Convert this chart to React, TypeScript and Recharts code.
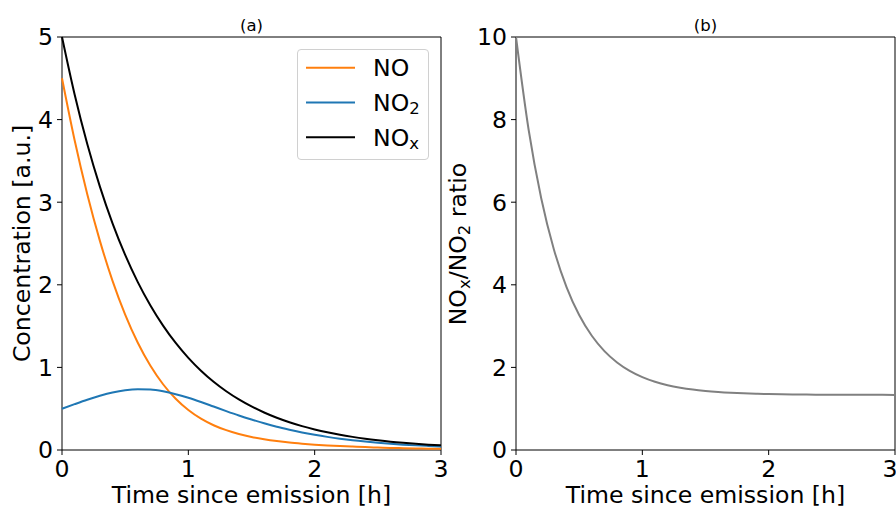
import {
  Customized,
  Legend,
  Line,
  LineChart,
  ReferenceArea,
  XAxis,
  YAxis,
} from "recharts";

const times = [
  0, 0.1, 0.2, 0.3, 0.4, 0.5, 0.6, 0.7, 0.8, 0.9, 1.0, 1.1, 1.2, 1.3, 1.4, 1.5,
  1.6, 1.7, 1.8, 1.9, 2.0, 2.1, 2.2, 2.3, 2.4, 2.5, 2.6, 2.7, 2.8, 2.9, 3.0,
];
const noValues = [
  4.5, 3.749, 3.096, 2.532, 2.048, 1.639, 1.298, 1.019, 0.796, 0.62, 0.484,
  0.379, 0.3, 0.24, 0.194, 0.158, 0.131, 0.109, 0.091, 0.077, 0.065, 0.055,
  0.047, 0.041, 0.035, 0.03, 0.025, 0.022, 0.019, 0.016, 0.014,
];
const no2Values = [
  0.5, 0.555, 0.608, 0.656, 0.696, 0.723, 0.735, 0.731, 0.71, 0.676, 0.632,
  0.581, 0.526, 0.471, 0.418, 0.369, 0.323, 0.281, 0.245, 0.212, 0.184, 0.159,
  0.137, 0.118, 0.102, 0.088, 0.076, 0.065, 0.056, 0.049, 0.042,
];
const noxValues = [
  5.0, 4.304, 3.704, 3.188, 2.744, 2.362, 2.033, 1.75, 1.506, 1.296, 1.116,
  0.96, 0.826, 0.711, 0.612, 0.527, 0.454, 0.39, 0.336, 0.289, 0.249, 0.214,
  0.184, 0.159, 0.137, 0.118, 0.101, 0.087, 0.075, 0.065, 0.056,
];
const ratioValues = [
  10.0, 7.754, 6.09, 4.857, 3.944, 3.267, 2.766, 2.395, 2.12, 1.916, 1.765,
  1.653, 1.57, 1.509, 1.463, 1.43, 1.405, 1.386, 1.372, 1.362, 1.355, 1.349,
  1.345, 1.342, 1.34, 1.338, 1.337, 1.336, 1.335, 1.335, 1.334,
];

const timeTicks = [0, 1, 2, 3];
const concTicks = [0, 1, 2, 3, 4, 5];
const ratioTicks = [0, 2, 4, 6, 8, 10];

const FONT = "DejaVu Sans";
const BIG = 23.6;
const SMALL = 16.5;
const ORANGE = "#ff7f0e";
const BLUE = "#1f77b4";
const GREY = "#808080";

const rows = times.map((t, i) => ({
  t,
  no: noValues[i],
  no2: no2Values[i],
  nox: noxValues[i],
  ratio: ratioValues[i],
}));

const tickStyle = { fontSize: BIG, fill: "#000", fontFamily: FONT };

function LegendBox({ payload }: any) {
  return (
    <div
      style={{
        width: 132,
        height: 111,
        boxSizing: "border-box",
        border: "1px solid #d0d0d0",
        borderRadius: 4,
        background: "rgba(255,255,255,0.8)",
      }}
    >
      <svg width={130} height={109} style={{ display: "block" }}>
        {(payload ?? []).map((e: any, i: number) => {
          const cy = 17.7 + i * 34.8;
          const name = String(e.value);
          return (
            <g key={name}>
              <line x1={8} x2={57} y1={cy} y2={cy} stroke={e.color} strokeWidth={2} />
              <text x={75} y={cy + 8.6} fontSize={BIG} fontFamily={FONT} fill="#000">
                NO
                {name.length > 2 && (
                  <tspan fontSize={SMALL} dy={3}>
                    {name.slice(2)}
                  </tspan>
                )}
              </text>
            </g>
          );
        })}
      </svg>
    </div>
  );
}

function PanelText({ cx, title, yLabel }: { cx: number; title: string; yLabel: any }) {
  return (
    <g fontFamily={FONT} fill="#000">
      <text x={cx} y={31} fontSize={SMALL} textAnchor="middle">
        {title}
      </text>
      <text x={cx} y={502.5} fontSize={BIG} textAnchor="middle">
        Time since emission [h]
      </text>
      {yLabel}
    </g>
  );
}

export default function App() {
  return (
    <div style={{ position: "relative", width: 896, height: 508, background: "#fff" }}>
      <style>{`body{margin:0;overflow:hidden}`}</style>

      <div style={{ position: "absolute", left: 0, top: 0 }}>
        <LineChart width={450} height={508} data={rows} margin={{ top: 37, right: 9, bottom: 0, left: 0 }}>
          <XAxis
            dataKey="t"
            type="number"
            domain={[0, 3]}
            ticks={timeTicks}
            height={58}
            axisLine={false}
            tickLine={{ stroke: "#000" }}
            tickSize={5}
            tickMargin={5}
            tick={tickStyle}
          />
          <YAxis
            type="number"
            domain={[0, 5]}
            ticks={concTicks}
            width={62}
            axisLine={false}
            tickLine={{ stroke: "#000" }}
            tickSize={5}
            tickMargin={4}
            tick={tickStyle}
          />
          <Line dataKey="no" name="NO" stroke={ORANGE} strokeWidth={2} dot={false} type="monotone" isAnimationActive={false} />
          <Line dataKey="no2" name="NO2" stroke={BLUE} strokeWidth={2} dot={false} type="monotone" isAnimationActive={false} />
          <Line dataKey="nox" name="NOx" stroke="#000" strokeWidth={2} dot={false} type="monotone" isAnimationActive={false} />
          <ReferenceArea x1={0} x2={3} y1={0} y2={5} fill="none" stroke="#000" strokeWidth={1} />
          <Legend
            layout="horizontal"
            verticalAlign="middle"
            align="center"
            content={LegendBox}
            wrapperStyle={{ left: 297, top: 49, width: 132, height: 111 }}
          />
          <Customized
            component={() => (
              <PanelText
                cx={251.5}
                title="(a)"
                yLabel={
                  <text x={30} y={243.5} transform="rotate(-90 30 243.5)" fontSize={BIG} textAnchor="middle">
                    Concentration [a.u.]
                  </text>
                }
              />
            )}
          />
        </LineChart>
      </div>

      <div style={{ position: "absolute", left: 440, top: 0 }}>
        <LineChart width={456} height={508} data={rows} margin={{ top: 37, right: 1, bottom: 0, left: 0 }}>
          <XAxis
            dataKey="t"
            type="number"
            domain={[0, 3]}
            ticks={timeTicks}
            height={58}
            axisLine={false}
            tickLine={{ stroke: "#000" }}
            tickSize={5}
            tickMargin={5}
            tick={tickStyle}
          />
          <YAxis
            type="number"
            domain={[0, 10]}
            ticks={ratioTicks}
            width={76}
            axisLine={false}
            tickLine={{ stroke: "#000" }}
            tickSize={5}
            tickMargin={4}
            tick={tickStyle}
          />
          <Line dataKey="ratio" name="ratio" stroke={GREY} strokeWidth={2} dot={false} type="monotone" isAnimationActive={false} />
          <ReferenceArea x1={0} x2={3} y1={0} y2={10} fill="none" stroke="#000" strokeWidth={1} />
          <Customized
            component={() => (
              <PanelText
                cx={265.5}
                title="(b)"
                yLabel={
                  <text x={26} y={244} transform="rotate(-90 26 244)" fontSize={BIG} textAnchor="middle">
                    NO
                    <tspan fontSize={SMALL} dy={4}>x</tspan>
                    <tspan dy={-4}>/NO</tspan>
                    <tspan fontSize={SMALL} dy={4}>2</tspan>
                    <tspan dy={-4}> ratio</tspan>
                  </text>
                }
              />
            )}
          />
        </LineChart>
      </div>
    </div>
  );
}
